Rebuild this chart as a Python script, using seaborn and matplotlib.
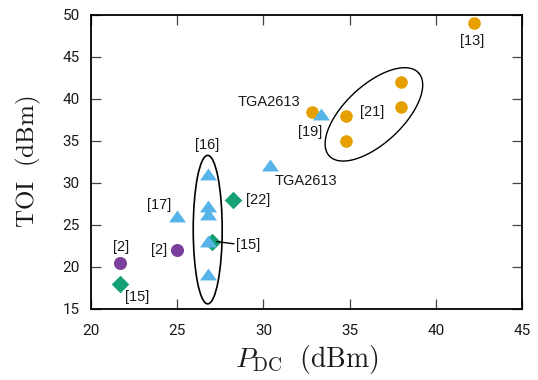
import numpy as np
import pandas as pd
import matplotlib
matplotlib.use("Agg")
import matplotlib.pyplot as plt
import seaborn as sns
from matplotlib.path import Path
from matplotlib.patches import Ellipse

# ---------------- data ----------------
purple_x = [21.7, 25.0]
purple_y = [20.5, 22.0]

green_x = [21.7, 27.0, 28.25]
green_y = [18.0, 23.0, 28.0]

blue_x = [25.0, 26.8, 26.8, 26.8, 26.8, 26.8, 30.4, 33.35]
blue_y = [26.1, 31.1, 27.3, 26.3, 23.1, 19.2, 32.2, 38.2]

orange_x = [32.8, 34.8, 34.8, 38.0, 38.0, 42.2]
orange_y = [38.5, 38.0, 35.0, 42.0, 39.0, 49.0]

label_text = ["[2]", "[2]", "[15]", "[17]", "[16]", "[22]", "[15]",
              "TGA2613", "[19]", "TGA2613", "[21]", "[13]"]
label_x = [21.72, 23.94, 22.69, 23.96, 26.71, 29.67, 29.09,
           30.32, 32.70, 32.47, 36.28, 42.08]
label_y = [22.44, 22.05, 16.40, 27.33, 34.48, 28.00, 22.56,
           39.64, 36.07, 30.19, 38.45, 46.90]

x_ticks = [20, 25, 30, 35, 40, 45]
y_ticks = [15, 20, 25, 30, 35, 40, 45, 50]

# ---------------- style ----------------
sns.set_theme(style="white")
plt.rcParams["mathtext.fontset"] = "cm"
plt.rcParams["font.family"] = ["Liberation Sans", "DejaVu Sans"]

c_purple = "#7B3F9E"
c_green = "#15A075"
c_blue = "#56B4E9"
c_orange = "#E69F00"

fig = plt.figure(figsize=(5.38, 3.80), dpi=100)
ax = fig.add_axes([91 / 538, 1 - 309 / 380, (522 - 91) / 538, (309 - 15) / 380])

tri = Path([(-1.0, -0.7), (1.0, -0.7), (0.0, 0.7), (-1.0, -0.7)],
           [Path.MOVETO, Path.LINETO, Path.LINETO, Path.CLOSEPOLY])

sns.scatterplot(x=purple_x, y=purple_y, ax=ax, color=c_purple, marker="o",
                s=88, linewidth=0, zorder=3)
sns.scatterplot(x=orange_x, y=orange_y, ax=ax, color=c_orange, marker="o",
                s=82, linewidth=0, zorder=3)
sns.scatterplot(x=green_x, y=green_y, ax=ax, color=c_green, marker="D",
                s=80, linewidth=0, zorder=4)
sns.scatterplot(x=blue_x, y=blue_y, ax=ax, color=c_blue, marker=tri,
                s=150, linewidth=0, zorder=5)

ax.set_xlim(20, 45)
ax.set_ylim(15, 50)
ax.set_xticks(x_ticks)
ax.set_yticks(y_ticks)

for t, x, y in zip(label_text, label_x, label_y):
    ax.text(x, y, t, ha="center", va="center", fontsize=10.5,
            color="#1a1a1a", zorder=6)

# leader line for the middle [15]
ax.annotate("", xy=(27.29, 23.03), xytext=(28.29, 22.76),
            arrowprops=dict(arrowstyle="-", color="black", lw=1.0,
                            shrinkA=0, shrinkB=0), zorder=6)

# vertical ellipse around [16]
ax.add_patch(Ellipse((26.77, 24.45), width=1.68, height=17.68,
                     fill=False, edgecolor="black", lw=1.2, zorder=2))

# tilted ellipse around [21] (defined in screen pixels)
fig.canvas.draw()
p0 = ax.transData.transform((0, 0))
p1 = ax.transData.transform((1, 1))
sx, sy = p1[0] - p0[0], p1[1] - p0[1]
cx, cy = 36.41, 38.17
a_px, b_px, th = 61.0, 29.0, np.deg2rad(43)
t = np.linspace(0, 2 * np.pi, 300)
ex = cx + (a_px * np.cos(t) * np.cos(th) - b_px * np.sin(t) * np.sin(th)) / sx
ey = cy + (a_px * np.cos(t) * np.sin(th) + b_px * np.sin(t) * np.cos(th)) / sy
ax.plot(ex, ey, color="black", lw=1.0, zorder=2)

# axes styling
for side in ["left", "right", "top", "bottom"]:
    ax.spines[side].set_visible(True)
    ax.spines[side].set_color("black")
    ax.spines[side].set_linewidth(1.3)
ax.tick_params(axis="both", which="major", direction="in", length=7,
               width=0.9, color="#444444", top=True, right=True,
               bottom=True, left=True)
ax.tick_params(axis="x", pad=11)
ax.tick_params(axis="y", pad=8)
for lab in ax.get_xticklabels() + ax.get_yticklabels():
    lab.set_fontfamily("Roboto")
    lab.set_fontsize(11)
    lab.set_color("#1a1a1a")

ax.set_xlabel(r"$P_{\mathrm{DC}}\ \ (\mathrm{dBm})$", fontsize=20, color="#1a1a1a")
ax.set_ylabel(r"$\mathrm{TOI}\ \ (\mathrm{dBm})$", fontsize=18, color="#1a1a1a")
ax.xaxis.set_label_coords(0.5, -0.115)
ax.yaxis.set_label_coords(-0.112, 0.5)

fig.savefig("out.png", dpi=100)
